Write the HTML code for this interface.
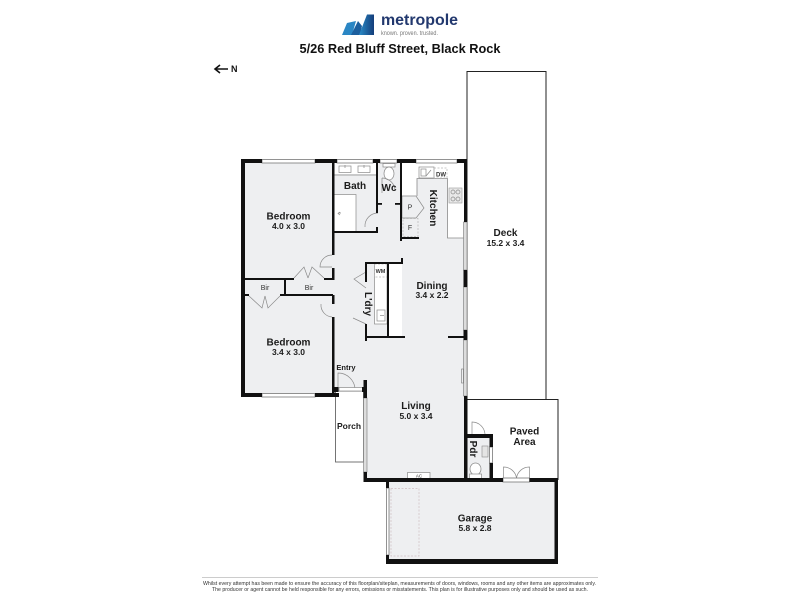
<!DOCTYPE html>
<html><head><meta charset="utf-8"><style>
html,body{margin:0;padding:0;background:#fff;width:800px;height:600px;overflow:hidden}
svg{display:block}
text{font-family:"Liberation Sans",sans-serif;fill:#1c1c1c}
.b{font-weight:bold;text-anchor:middle;font-size:10px}
.d{font-weight:bold;text-anchor:middle;font-size:8.5px}
.s{text-anchor:middle;font-size:7px;fill:#333}
.g{fill:none;stroke:#8a8a8a;stroke-width:.7}
.w{fill:#fff;stroke:#8a8a8a;stroke-width:.7}
.dash{fill:none;stroke:#b5b5b5;stroke-width:.7;stroke-dasharray:2 1.5}
</style></head><body>
<svg width="800" height="600" viewBox="0 0 800 600" xmlns="http://www.w3.org/2000/svg">
<!-- logo -->
<defs><linearGradient id="l" x1="0" y1="0" x2="1" y2="0"><stop offset="0" stop-color="#2a8cc8"/><stop offset="1" stop-color="#143d7a"/></linearGradient></defs>
<polygon points="342,35 347,23 356,21 352,35" fill="#2a86c4"/>
<polygon points="351,35 358,21 362,26 360,35" fill="#1c5f9e"/>
<polygon points="359,35 367,14.500 374,14.500 374,35" fill="url(#l)"/>
<text x="381" y="25" font-size="15.500" font-weight="bold" style="fill:#22386e" textLength="77" lengthAdjust="spacingAndGlyphs">metropole</text>
<text x="381" y="35" font-size="6" style="fill:#777" textLength="57" lengthAdjust="spacingAndGlyphs">known. proven. trusted.</text>
<text x="400" y="53" font-size="12.5" font-weight="bold" text-anchor="middle" textLength="201" lengthAdjust="spacingAndGlyphs" style="fill:#111">5/26 Red Bluff Street, Black Rock</text>
<!-- north -->
<path d="M228 69H215M220 65l-5 4 5 4" fill="none" stroke="#111" stroke-width="1.6"/>
<text x="231" y="72" font-size="9" font-weight="bold" style="fill:#111">N</text>

<!-- floors -->
<polygon points="243,161 466,161 466,480 365,480 365,392 334,392 334,395 243,395" fill="#eeeff1"/>
<rect x="467" y="435" width="24" height="45" fill="#eeeff1"/>
<rect x="388" y="481" width="167" height="79" fill="#eeeff1"/>

<!-- deck / paved / porch outlines -->
<rect x="467" y="71.5" width="79" height="328" fill="#fff" stroke="#222" stroke-width="1"/>
<path d="M467 399.5H558V480" fill="none" stroke="#222" stroke-width="1"/>
<rect x="335.5" y="391" width="28" height="71" fill="#fff" stroke="#666" stroke-width=".9"/>

<!-- whites: bath, kitchen, laundry -->
<rect x="334" y="163" width="43" height="11" fill="#fff"/>
<rect x="334" y="194.5" width="22" height="37" fill="#fff" stroke="#8a8a8a" stroke-width=".7"/>
<path d="M334 175H377" stroke="#8a8a8a" stroke-width=".8"/>
<polygon points="402,163 464,163 464,238 447.5,238 447.5,178.5 417,178.5 417,195.5 402,195.5" fill="#fff"/>
<path d="M464 238H447.5V178.5H417V196" fill="none" stroke="#8a8a8a" stroke-width=".8"/>
<rect x="389" y="263" width="13" height="73" fill="#fff"/>
<rect x="374.5" y="263" width="12.5" height="61" fill="#fff" stroke="#8a8a8a" stroke-width=".7"/>

<!-- fixtures -->
<rect x="339" y="166" width="12" height="6.5" class="w"/><rect x="358" y="166" width="12" height="6.5" class="w"/>
<path d="M345 165v3M364 165v3" class="g"/>
<path d="M340 212l-2 1.5 2 1.5M338 213h3" class="g"/>
<rect x="383" y="163.500" width="12" height="3.500" class="w"/>
<ellipse cx="389" cy="173.500" rx="5" ry="6.500" class="w"/>
<rect x="419" y="167" width="15" height="11" class="w"/><rect x="421" y="169" width="5" height="7" class="g"/><path d="M426 176l5-6" class="g"/>
<rect x="434" y="168" width="13" height="10" class="dash"/>
<rect x="449" y="188" width="13" height="15" fill="#e8e8e8" stroke="#999" stroke-width=".6"/>
<circle cx="453" cy="192" r="2" class="g"/><circle cx="458" cy="192" r="2" class="g"/><circle cx="453" cy="199" r="2" class="g"/><circle cx="458" cy="199" r="2" class="g"/>
<polygon points="402,196 416,196 424,208 416,218 402,218" fill="#eeeff1" stroke="#8a8a8a" stroke-width=".7"/>
<rect x="403" y="218.5" width="15" height="18" class="dash"/>
<rect x="374.5" y="264" width="12.5" height="13" class="dash"/>
<rect x="377" y="310" width="8" height="11" class="w"/>
<path d="M384 315.500h-4" class="g"/>
<rect x="407.500" y="472.500" width="22.500" height="6" class="w"/>
<rect x="391" y="488.500" width="28" height="67.500" fill="none" stroke="#cfbfc2" stroke-width=".7" stroke-dasharray="2 1.500"/>
<ellipse cx="475.500" cy="469" rx="5.500" ry="6" class="w"/><rect x="469.500" y="474" width="12" height="4.500" class="w"/>
<rect x="482" y="446" width="6" height="11" fill="#e4e4e4" stroke="#8a8a8a" stroke-width=".6"/>

<!-- door swings -->
<path d="M378 213a13 13 0 0 0-13 14" class="g"/>
<path d="M382 193V178M382 178a13 13 0 0 1 13 13" class="g"/>
<path d="M332 255a12 12 0 0 0-12 12h12" class="g"/>
<path d="M321 304a12 12 0 0 0 11 13" class="g"/>
<path d="M294 278l10-11 4 11M308 278l4-11 12 11" class="g"/>
<path d="M249 296l13 12 3-12M265 296l3 12 12-12" class="g"/>
<path d="M366 272l-12 7 12 9M353 318l13 6" class="g"/>
<path d="M338 389V373a17 17 0 0 1 17 16" class="g"/>
<path d="M472 434V422a13 13 0 0 1 13 12" class="g"/>
<path d="M503.500 478V467a13 13 0 0 1 13 11M529.500 478V467a13 13 0 0 0-13 11" class="g"/>

<!-- windows (grey) -->
<g fill="#fff" stroke="#777" stroke-width=".8">
<rect x="262" y="159.500" width="53" height="3.500"/>
<rect x="262" y="393.500" width="53" height="3.500"/>
<rect x="337" y="159.500" width="36" height="3.500"/>
<rect x="380" y="159.500" width="17" height="3.500"/>
<rect x="416" y="159.500" width="41" height="3.500"/>
<rect x="503" y="478" width="26.500" height="4"/>
<rect x="386.500" y="488" width="2.500" height="67"/>
<rect x="489.500" y="447" width="3" height="16"/>
</g>
<g fill="#ddd" stroke="#777" stroke-width=".6">
<rect x="463.500" y="222" width="3.500" height="48"/>
<rect x="463.500" y="287" width="3.500" height="43"/>
<rect x="463.500" y="340" width="3.500" height="56"/>
<rect x="461.500" y="369" width="2" height="14" fill="none"/>
<rect x="363.500" y="398" width="3.500" height="74"/>
<rect x="339" y="387.500" width="24" height="3.500" fill="#fff"/>
</g>

<!-- walls -->
<g fill="#111">
<rect x="241" y="159" width="21" height="4"/>
<rect x="315" y="159" width="22" height="4"/>
<rect x="373" y="159" width="7" height="4"/>
<rect x="397" y="159" width="19" height="4"/>
<rect x="457" y="159" width="10" height="4"/>
<rect x="241" y="159" width="4" height="238"/>
<rect x="241" y="393" width="21" height="4"/>
<rect x="315" y="393" width="24" height="4"/>
<rect x="332" y="163" width="2.500" height="92"/>
<rect x="332" y="268" width="2.500" height="12"/>
<rect x="332" y="295" width="2.500" height="9"/>
<rect x="332" y="317" width="2.500" height="77"/>
<rect x="245" y="278" width="49" height="2"/>
<rect x="324" y="278" width="9" height="2"/>
<rect x="245" y="294" width="4" height="2"/><rect x="280" y="294" width="53" height="2"/>
<rect x="284" y="278" width="2" height="17"/>
<rect x="334" y="231" width="44" height="2"/>
<rect x="376" y="163" width="2" height="50"/>
<rect x="376" y="227" width="2" height="6"/>
<rect x="377" y="203" width="5" height="1.800"/>
<rect x="395" y="203" width="7" height="1.800"/>
<rect x="400" y="163" width="2" height="78"/>
<rect x="400" y="237" width="19" height="2"/>
<rect x="366" y="262" width="36" height="2"/>
<rect x="401" y="258" width="2" height="6"/>
<rect x="365" y="262" width="2" height="20"/>
<rect x="365" y="324" width="2" height="17"/>
<rect x="366" y="336" width="39" height="2"/>
<rect x="387" y="263" width="2" height="74"/>
<rect x="448" y="336" width="17" height="2"/>
<rect x="464" y="163" width="3" height="59"/>
<rect x="463.500" y="270" width="3.500" height="17"/>
<rect x="463.500" y="330" width="3.500" height="10"/>
<rect x="464" y="396" width="3.500" height="84"/>
<rect x="363.500" y="380" width="3.500" height="18"/>
<rect x="334" y="387" width="4.500" height="5"/>
<rect x="362" y="387" width="3" height="5"/>
<rect x="363.500" y="472" width="3.500" height="10"/>
<rect x="363.500" y="478" width="139.500" height="4"/>
<rect x="529.500" y="478" width="28.500" height="4"/>
<rect x="467" y="434" width="26" height="4"/>
<rect x="489.500" y="434" width="3.500" height="13"/>
<rect x="489.500" y="463" width="3.500" height="16"/>
<rect x="386" y="482" width="3" height="6"/>
<rect x="386" y="555" width="3" height="9"/>
<rect x="386" y="559" width="172" height="5"/>
<rect x="554.500" y="480" width="3.500" height="84"/>
</g>

<!-- labels -->
<text class="b" x="288.500" y="219.500">Bedroom</text><text class="d" x="288.500" y="229">4.0 x 3.0</text>
<text class="b" x="288.500" y="345.500">Bedroom</text><text class="d" x="288.500" y="355">3.4 x 3.0</text>
<text class="b" x="355" y="189">Bath</text>
<text class="b" x="389" y="191">Wc</text>
<text class="b" transform="translate(430,208) rotate(90)" x="0" y="0">Kitchen</text>
<text class="s" x="265" y="290">Bir</text><text class="s" x="309" y="290">Bir</text>
<text class="d" style="font-size:7.500px" x="346" y="370">Entry</text>
<text class="b" transform="translate(365,304) rotate(90)" x="0" y="0">L'dry</text>
<text class="b" x="432" y="289">Dining</text><text class="d" x="432" y="298">3.4 x 2.2</text>
<text class="b" x="505.500" y="236">Deck</text><text class="d" x="505.500" y="246">15.2 x 3.4</text>
<text class="b" x="416" y="409">Living</text><text class="d" x="416" y="419">5.0 x 3.4</text>
<text class="d" x="349" y="429">Porch</text>
<text class="b" x="524.500" y="434.500">Paved</text><text class="b" x="524.500" y="445">Area</text>
<text class="b" transform="translate(470,449) rotate(90)" x="0" y="0">Pdr</text>
<text class="b" x="475" y="521.500">Garage</text><text class="d" x="475" y="531">5.8 x 2.8</text>
<text class="s" x="410" y="209.500">P</text><text class="s" x="410" y="230">F</text>
<text class="s" style="font-size:5.500px;font-weight:bold" x="380.500" y="273">WM</text>
<text class="s" style="font-size:6px;font-weight:bold" x="441" y="176.500">DW</text>
<text class="s" style="font-size:4.500px" x="419" y="477.500">AC</text>

<!-- footer -->
<rect x="202" y="577" width="396" height="1" fill="#ccc"/>
<text x="203" y="585" font-size="5.500" textLength="393" lengthAdjust="spacingAndGlyphs" style="fill:#333">Whilst every attempt has been made to ensure the accuracy of this floorplan/siteplan, measurements of doors, windows, rooms and any other items are approximates only.</text>
<text x="212" y="591" font-size="5.500" textLength="376" lengthAdjust="spacingAndGlyphs" style="fill:#333">The producer or agent cannot be held responsible for any errors, omissions or misstatements. This plan is for illustrative purposes only and should be used as such.</text>
</svg>
</body></html>
